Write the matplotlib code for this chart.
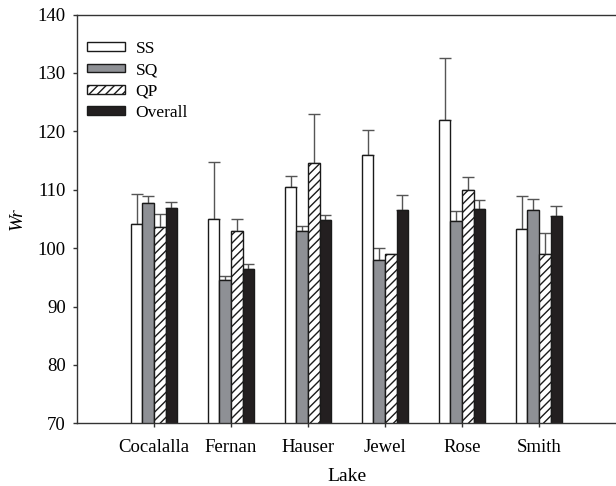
import numpy as np
import matplotlib
matplotlib.use("Agg")
from matplotlib import pyplot as plt

lakes = ["Cocalalla", "Fernan", "Hauser", "Jewel", "Rose", "Smith"]
series = ["SS", "SQ", "QP", "Overall"]

ss = [104.1, 105.0, 110.5, 115.9, 122.0, 103.3]
ss_err = [5.1, 9.8, 1.8, 4.3, 10.6, 5.7]
sq = [107.7, 94.5, 103.0, 98.0, 104.7, 106.5]
sq_err = [1.2, 0.8, 0.8, 2.1, 1.7, 1.9]
qp = [103.6, 102.9, 114.5, 99.0, 110.0, 99.0]
qp_err = [2.2, 2.1, 8.5, np.nan, 2.1, 3.6]
overall = [106.9, 96.4, 104.9, 106.5, 106.7, 105.5]
overall_err = [1.0, 0.8, 0.7, 2.6, 1.5, 1.7]

plt.rcParams['font.family'] = ['Liberation Serif', 'DejaVu Serif']
plt.rcParams['hatch.linewidth'] = 1.0

fig = plt.figure(figsize=(6.16, 4.86), dpi=100)
ax = fig.add_axes([0.125, 0.129, 0.875, 0.841])

x = np.arange(1, len(lakes) + 1)
w = 0.15
vals = [ss, sq, qp, overall]
errs = [ss_err, sq_err, qp_err, overall_err]
faces = ['white', '#8e9095', 'white', '#231f20']
hatches = [None, None, '////', None]

for i in range(4):
    pos = x + (i - 1.5) * w
    e = np.array(errs[i])
    ax.bar(pos, vals[i], w, color=faces[i], edgecolor='#1a1a1a', linewidth=1.0,
           hatch=hatches[i], label=series[i], zorder=2)
    ax.errorbar(pos, vals[i], yerr=[np.zeros_like(e), e], fmt='none',
                ecolor='#555555', elinewidth=1.0, capsize=4, capthick=1.0, zorder=1)

ax.set_xlim(0, 7)
ax.set_ylim(70, 140)
ax.set_yticks(range(70, 141, 10))
ax.set_xticks(x)
ax.set_xticklabels(lakes)
ax.tick_params(labelsize=13.5, direction='out', length=3, width=1, color='#333333')
ax.tick_params(axis='x', pad=8)
ax.tick_params(axis='y', pad=5)
ax.spines['right'].set_visible(False)
for s in ['left', 'top', 'bottom']:
    ax.spines[s].set_color('#333333')
    ax.spines[s].set_linewidth(1.0)

ax.set_xlabel("Lake", fontsize=14, labelpad=9)
ax.set_ylabel("Wr", fontsize=14, style='italic', labelpad=9)

ax.legend(loc='upper left', bbox_to_anchor=(-0.004, 0.965), frameon=False, fontsize=12.5,
          handlelength=2.2, handleheight=0.4, labelspacing=0.3, handletextpad=0.6,
          borderaxespad=0.3)

fig.savefig("out.png", dpi=100)
